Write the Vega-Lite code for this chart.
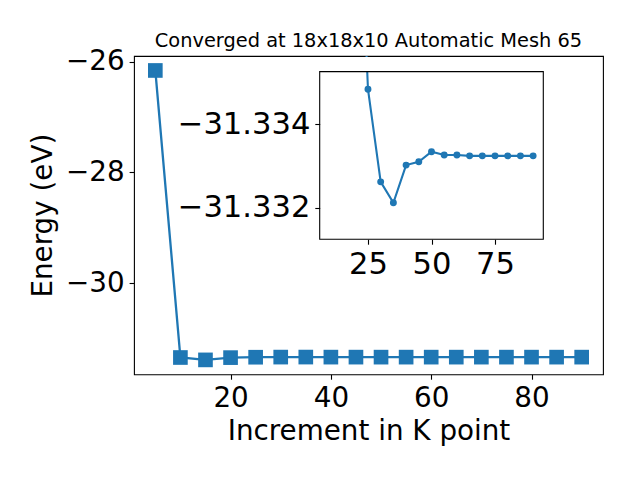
{
  "$schema": "https://vega.github.io/schema/vega-lite/v6.json",
  "padding": {"left": 29, "top": 30, "right": 5, "bottom": 5},
  "autosize": {"type": "pad"},
  "background": "white",
  "width": 469,
  "height": 318.3,
  "title": {"text": "Converged at 18x18x10 Automatic Mesh 65", "anchor": "middle", "frame": "group", "offset": -3.5},
  "config": {
    "font": "DejaVu Sans",
    "view": {"stroke": "black", "strokeWidth": 1.1},
    "axis": {
      "domain": false, "grid": false, "ticks": true, "tickSize": 4.9, "tickWidth": 1.1, "tickColor": "black",
      "labelFontSize": 27.8, "labelColor": "black", "labelPadding": 4.9, "labelFont": "DejaVu Sans",
      "titleFontSize": 27.8, "titleFontWeight": "normal", "titleColor": "black", "titleFont": "DejaVu Sans",
      "labelFlush": false, "labelOverlap": false
    },
    "title": {"fontSize": 19.4, "fontWeight": "normal", "color": "black", "font": "DejaVu Sans"}
  },
  "datasets": {
    "kpoints": [
      {"kpoint": 5, "energy": -26.16},
      {"kpoint": 10, "energy": -31.340},
      {"kpoint": 15, "energy": -31.383},
      {"kpoint": 20, "energy": -31.342},
      {"kpoint": 25, "energy": -31.33483},
      {"kpoint": 30, "energy": -31.33262},
      {"kpoint": 35, "energy": -31.33212},
      {"kpoint": 40, "energy": -31.33302},
      {"kpoint": 45, "energy": -31.33310},
      {"kpoint": 50, "energy": -31.33334},
      {"kpoint": 55, "energy": -31.33326},
      {"kpoint": 60, "energy": -31.33326},
      {"kpoint": 65, "energy": -31.33324},
      {"kpoint": 70, "energy": -31.33324},
      {"kpoint": 75, "energy": -31.33324},
      {"kpoint": 80, "energy": -31.33324},
      {"kpoint": 85, "energy": -31.33324},
      {"kpoint": 90, "energy": -31.33324}
    ]
  },
  "resolve": {
    "scale": {"x": "independent", "y": "independent"},
    "axis": {"x": "independent", "y": "independent"}
  },
  "layer": [
    {
      "data": {"name": "kpoints"},
      "mark": {"type": "line", "color": "#1f77b4", "strokeWidth": 2.3},
      "encoding": {
        "x": {"field": "kpoint", "type": "quantitative",
              "scale": {"domain": [0.75, 94.25], "nice": false, "zero": false},
              "axis": {"orient": "bottom", "values": [20, 40, 60, 80], "title": "Increment in K point", "titlePadding": 6}},
        "y": {"field": "energy", "type": "quantitative",
              "scale": {"domain": [-31.643, -25.899], "nice": false, "zero": false},
              "axis": {"orient": "left", "values": [-26, -28, -30], "format": "d", "title": "Energy (eV)", "titlePadding": 8}}
      }
    },
    {
      "data": {"name": "kpoints"},
      "mark": {"type": "square", "color": "#1f77b4", "filled": true, "opacity": 1, "size": 215},
      "encoding": {
        "x": {"field": "kpoint", "type": "quantitative",
              "scale": {"domain": [0.75, 94.25], "nice": false, "zero": false}, "axis": null},
        "y": {"field": "energy", "type": "quantitative",
              "scale": {"domain": [-31.643, -25.899], "nice": false, "zero": false}, "axis": null}
      }
    },
    {
      "data": {"name": "kpoints"},
      "transform": [{"filter": "datum.kpoint >= 10"}],
      "mark": {"type": "line", "color": "#1f77b4", "strokeWidth": 2.1, "clip": true},
      "encoding": {
        "x": {"field": "kpoint", "type": "quantitative",
              "scale": {"domain": [6, 94], "range": [185.7, 409.3], "nice": false, "zero": false},
              "axis": {"orient": "bottom", "offset": -135, "values": [25, 50, 75], "title": null, "labelFontSize": 30.6}},
        "y": {"field": "energy", "type": "quantitative",
              "scale": {"domain": [-31.33525, -31.33125], "range": [15.6, 183.3], "nice": false, "zero": false},
              "axis": {"orient": "left", "offset": -185.7, "values": [-31.334, -31.332], "format": ".3f", "title": null, "labelFontSize": 30.6}}
      }
    },
    {
      "data": {"name": "kpoints"},
      "transform": [{"filter": "datum.kpoint >= 10"}],
      "mark": {"type": "circle", "color": "#1f77b4", "opacity": 1, "size": 48, "clip": true},
      "encoding": {
        "x": {"field": "kpoint", "type": "quantitative",
              "scale": {"domain": [6, 94], "range": [185.7, 409.3], "nice": false, "zero": false}, "axis": null},
        "y": {"field": "energy", "type": "quantitative",
              "scale": {"domain": [-31.33525, -31.33125], "range": [15.6, 183.3], "nice": false, "zero": false}, "axis": null}
      }
    },
    {
      "data": {"values": [{}]},
      "mark": {"type": "rect", "fill": "white", "clip": true},
      "encoding": {
        "x": {"datum": 6, "type": "quantitative",
              "scale": {"domain": [6, 94], "range": [185.7, 409.3], "nice": false, "zero": false}, "axis": null},
        "x2": {"datum": 94},
        "y": {"datum": -31.3356, "type": "quantitative",
              "scale": {"domain": [-31.33525, -31.33125], "range": [15.6, 183.3], "nice": false, "zero": false}, "axis": null},
        "y2": {"datum": -31.33525}
      }
    },
    {
      "data": {"values": [{}]},
      "mark": {"type": "rect", "fill": null, "fillOpacity": 0, "stroke": "black", "strokeWidth": 1.1},
      "encoding": {
        "x": {"datum": 6, "type": "quantitative",
              "scale": {"domain": [6, 94], "range": [185.7, 409.3], "nice": false, "zero": false}, "axis": null},
        "x2": {"datum": 94},
        "y": {"datum": -31.33525, "type": "quantitative",
              "scale": {"domain": [-31.33525, -31.33125], "range": [15.6, 183.3], "nice": false, "zero": false}, "axis": null},
        "y2": {"datum": -31.33125}
      }
    }
  ]
}
